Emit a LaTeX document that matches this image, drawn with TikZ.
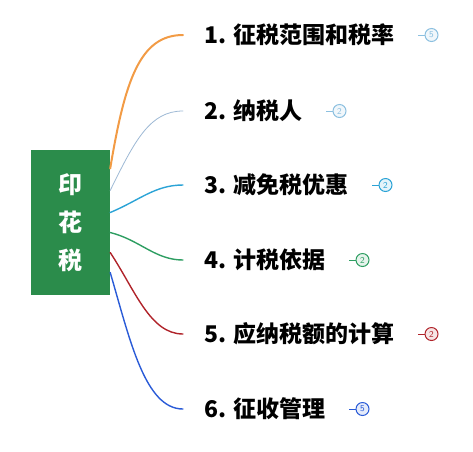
\documentclass[tikz,border=0pt]{standalone}
\usepackage{fontspec}
\newfontfamily\cjk{Noto Sans CJK SC}
\usetikzlibrary{positioning}
\definecolor{rootgreen}{HTML}{2B8C4B}
\definecolor{brorange}{HTML}{F29B45}
\definecolor{brgray}{HTML}{9DB8D4}
\definecolor{brcyan}{HTML}{2BA3D6}
\definecolor{brgreen}{HTML}{2E9E62}
\definecolor{brred}{HTML}{B0232A}
\definecolor{brblue}{HTML}{2A5BD7}
\definecolor{bdlight}{HTML}{8CC0E0}
\tikzset{
  topic/.style={inner sep=0pt, anchor=west, font=\cjk\bfseries\fontsize{23}{27}\selectfont},
  badge/.style={circle, draw=#1, fill=#1!12, line width=1pt, inner sep=0pt,
    minimum size=13pt, text=#1, font=\sffamily\fontsize{9}{10}\selectfont},
  branch/.style={line width=#1, line cap=round}
}
\begin{document}
\begin{tikzpicture}[x=1pt, y=-1pt]
    \useasboundingbox (0,0) rectangle (473,451);

    \node [fill=rootgreen, minimum width=79pt, minimum height=145pt, align=center,
      text=white, font=\cjk\bfseries\fontsize{24}{38}\selectfont]
      (root) at (70.5, 222.5) {印\\花\\税};

    \coordinate (e1) at (183, 35);
    \coordinate (e2) at (183, 111);
    \coordinate (e3) at (183, 185);
    \coordinate (e4) at (183, 260);
    \coordinate (e5) at (183, 334);
    \coordinate (e6) at (183, 409);

    \draw [branch=2pt, color=brorange]
    ([yshift=54pt]root.east) .. controls (125, 80) and (140, 35) .. (e1);
    \draw [branch=0.8pt, color=brgray]
    ([yshift=32pt]root.east) .. controls (135, 140) and (150, 111) .. (e2);
    \draw [branch=1.4pt, color=brcyan]
    ([yshift=10pt]root.east) .. controls (140, 200) and (155, 185) .. (e3);
    \draw [branch=1.4pt, color=brgreen]
    ([yshift=-10pt]root.east) .. controls (140, 240) and (155, 260) .. (e4);
    \draw [branch=1.4pt, color=brred]
    ([yshift=-30pt]root.east) .. controls (135, 290) and (150, 334) .. (e5);
    \draw [branch=1.4pt, color=brblue]
    ([yshift=-50pt]root.east) .. controls (130, 340) and (145, 409) .. (e6);

    \node [topic, right=21pt of e1] (l1) {1. 征税范围和税率};
    \node [topic, right=21pt of e2] (l2) {2. 纳税人};
    \node [topic, right=21pt of e3] (l3) {3. 减免税优惠};
    \node [topic, right=21pt of e4] (l4) {4. 计税依据};
    \node [topic, right=21pt of e5] (l5) {5. 应纳税额的计算};
    \node [topic, right=21pt of e6] (l6) {6. 征收管理};

    \node [badge=bdlight, right=30pt of l1] (b1) {5};
    \node [badge=bdlight, right=30pt of l2] (b2) {2};
    \node [badge=brcyan, right=30pt of l3] (b3) {2};
    \node [badge=brgreen, right=30pt of l4] (b4) {2};
    \node [badge=brred, right=30pt of l5] (b5) {2};
    \node [badge=brblue, right=30pt of l6] (b6) {5};

    \draw [line width=1pt, color=bdlight] (b1.west) -- ++(-7, 0);
    \draw [line width=1pt, color=bdlight] (b2.west) -- ++(-7, 0);
    \draw [line width=1pt, color=brcyan] (b3.west) -- ++(-7, 0);
    \draw [line width=1pt, color=brgreen] (b4.west) -- ++(-7, 0);
    \draw [line width=1pt, color=brred] (b5.west) -- ++(-7, 0);
    \draw [line width=1pt, color=brblue] (b6.west) -- ++(-7, 0);
  \end{tikzpicture}
\end{document}
